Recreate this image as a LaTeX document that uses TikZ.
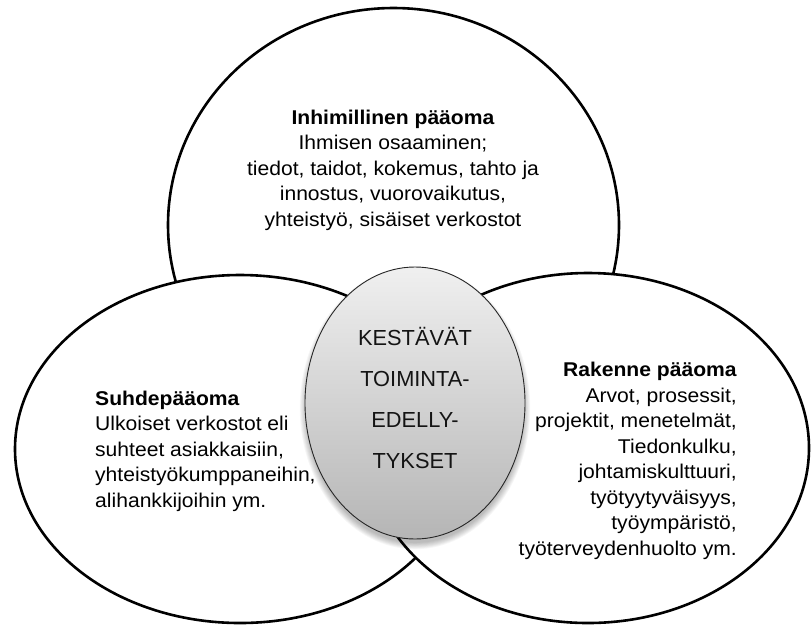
\documentclass[tikz,border=0pt]{standalone}
\usepackage{fontspec}
\setmainfont{Liberation Sans}
\newfontfamily\sidefont[FakeStretch=1.06]{Liberation Sans}
\usetikzlibrary{shapes.geometric}
\begin{document}
\begin{tikzpicture}[x=1pt,y=-1pt,
  circ/.style={ellipse, draw=black, line width=2.6pt, fill=white, inner sep=0pt},
  sidetext/.style={inner sep=0pt, text=black, font=\sidefont\fontsize{19.9}{25.5}\selectfont},
  corefont/.style={inner sep=0pt, text=black!92, font=\fontsize{21.8}{41.3}\selectfont},
  shade/.style={fill=black, opacity=0.035}]
\useasboundingbox (0,0) rectangle (811,625);
\node[circ, minimum width=451pt, minimum height=434pt] (top) at (393.5,225) {};
\node[circ, minimum width=450pt, minimum height=348pt] (left) at (240,449) {};
\node[circ, minimum width=442pt, minimum height=350pt] (right) at (588,448) {};
\foreach \i in {1,...,8} {
  \fill[shade] (415,408) ellipse ({108+\i*0.9pt} and {134+\i*0.9pt});
}
\node[ellipse, draw=black!85, line width=0.9pt, top color=gray!12, bottom color=gray!58,
      minimum width=220pt, minimum height=272pt, inner sep=0pt] (core) at (415,403) {};
\node[sidetext, anchor=base] (toptext) at (393,124)
  {\begin{tabular}[t]{@{}c@{}}\textbf{Inhimillinen pääoma}\\ Ihmisen osaaminen;\\ tiedot, taidot, kokemus, tahto ja\\ innostus, vuorovaikutus,\\ yhteistyö, sisäiset verkostot\end{tabular}};
\node[sidetext, anchor=base west] (lefttext) at (95,405)
  {\begin{tabular}[t]{@{}l@{}}\textbf{Suhdepääoma}\\ Ulkoiset verkostot eli\\ suhteet asiakkaisiin,\\ yhteistyökumppaneihin,\\ alihankkijoihin ym.\end{tabular}};
\node[sidetext, anchor=base east] (righttext) at (737,376.7)
  {\begin{tabular}[t]{@{}r@{}}\textbf{Rakenne pääoma}\\ Arvot, prosessit,\\ projektit, menetelmät,\\ Tiedonkulku,\\ johtamiskulttuuri,\\ työtyytyväisyys,\\ työympäristö,\\ työterveydenhuolto ym.\end{tabular}};
\node[corefont, anchor=base] (coretext) at (415,345)
  {\begin{tabular}[t]{@{}c@{}}KESTÄVÄT\\ TOIMINTA-\\ EDELLY-\\ TYKSET\end{tabular}};
\end{tikzpicture}
\end{document}
